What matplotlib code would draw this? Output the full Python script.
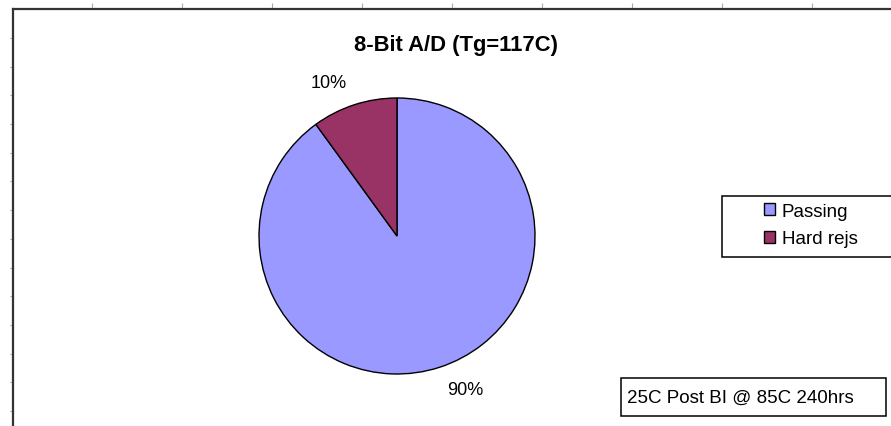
import matplotlib.pyplot as plt
import numpy as np
from matplotlib.patches import Rectangle

plt.rcParams["font.family"] = ["Liberation Sans", "DejaVu Sans"]

# Chart data
title = "8-Bit A/D (Tg=117C)"
categories = ["Passing", "Hard rejs"]
counts = [90, 10]
colors = ["#9999FF", "#993366"]
note = "25C Post BI @ 85C 240hrs"

W, H = 891, 427
fig = plt.figure(figsize=(W / 100, H / 100), dpi=100)


def fx(px):
    return px / W


def fy(py):
    # pixel measured from top -> figure fraction
    return 1 - py / H


# Spreadsheet-like outer frame with ruler ticks (runs off the right / bottom)
frame = fig.add_axes([fx(13), fy(H + 60), fx(W + 60 - 13), fy(10) - fy(H + 60)])
frame.set_xlim(13, W + 60)
frame.set_ylim(H + 60, 10)
for side in ["right", "bottom"]:
    frame.spines[side].set_visible(False)
for side in ["left", "top"]:
    frame.spines[side].set_linewidth(1.6)
    frame.spines[side].set_color("#333333")
frame.xaxis.tick_top()
frame.set_xticks(np.arange(92, W, 90))
frame.set_yticks(np.arange(39, H, 28.7))
frame.tick_params(axis="x", direction="out", length=4, width=0.8, color="#aaaaaa", labeltop=False)
frame.tick_params(axis="y", direction="out", length=2, width=0.8, color="#aaaaaa", labelleft=False)

# Title
fig.text(fx(456), fy(46), title, ha="center", va="center", fontsize=15.8, fontweight="bold")

# Pie
cx, cy, r = 397, 237, 138
ax = fig.add_axes([fx(cx - r), fy(cy + r), fx(2 * r), fy(cy - r) - fy(cy + r)])
total = sum(counts)
pct_labels = [f"{v / total * 100:.0f}%" for v in counts]
wedges, texts = ax.pie(
    counts,
    colors=colors,
    labels=pct_labels,
    labeldistance=1.17,
    startangle=90,
    counterclock=False,
    wedgeprops=dict(edgecolor="black", linewidth=1.0),
    textprops=dict(fontsize=13),
)
ax.set_xlim(-1, 1)
ax.set_ylim(-1, 1)
ax.set_aspect("equal")

# Legend box
fig.add_artist(Rectangle((fx(722), fy(258)), fx(W + 20 - 722), fy(197) - fy(258),
                         transform=fig.transFigure, facecolor="white",
                         edgecolor="black", linewidth=1.1))
fig.legend(
    wedges,
    categories,
    loc="upper left",
    bbox_to_anchor=(fx(764), fy(204)),
    frameon=False,
    fontsize=13.5,
    handlelength=0.6,
    handleheight=0.6,
    handletextpad=0.35,
    labelspacing=0.55,
    borderpad=0,
    borderaxespad=0,
)

# Note box
fig.add_artist(Rectangle((fx(621), fy(417)), fx(886 - 621), fy(379) - fy(417),
                         transform=fig.transFigure, facecolor="white",
                         edgecolor="black", linewidth=1.1))
fig.text(fx(627), fy(398), note, ha="left", va="center", fontsize=13.5)

fig.savefig("out.png", dpi=100)
